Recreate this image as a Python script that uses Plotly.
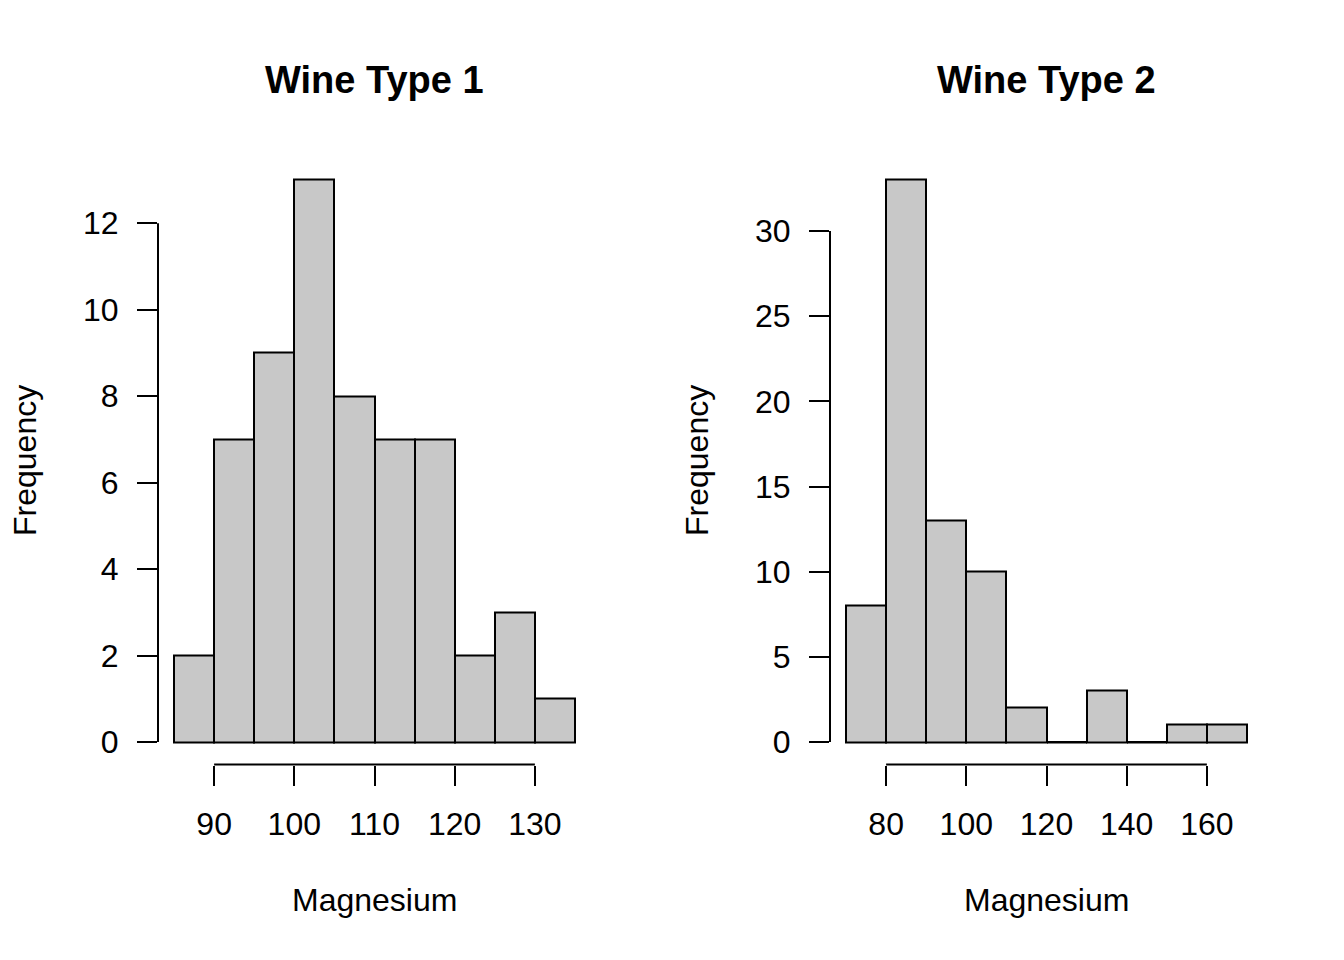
import plotly.graph_objects as go
import numpy as np

# Data
bins1 = [85, 90, 95, 100, 105, 110, 115, 120, 125, 130, 135]
counts1 = [2, 7, 9, 13, 8, 7, 7, 2, 3, 1]
xticks1 = [90, 100, 110, 120, 130]
yticks1 = [0, 2, 4, 6, 8, 10, 12]

bins2 = [70, 80, 90, 100, 110, 120, 130, 140, 150, 160, 170]
counts2 = [8, 33, 13, 10, 2, 0, 3, 0, 1, 1]
xticks2 = [80, 100, 120, 140, 160]
yticks2 = [0, 5, 10, 15, 20, 25, 30]

titles = ["Wine Type 1", "Wine Type 2"]
xlabel = "Magnesium"
ylabel = "Frequency"

W, H = 1344, 960
OFF = 8  # page body margin
FILL = "#C8C8C8"
FONT = "Liberation Sans, Arial, Helvetica, sans-serif"


def px(p):
    return (p - OFF) / W


def py(p):
    return 1 - (p - OFF) / H


fig = go.Figure()

panels = [
    (bins1, counts1, xticks1, yticks1, (158, 591)),
    (bins2, counts2, xticks2, yticks2, (830, 1263)),
]
ydom = [py(764.5), py(157.5)]

for i, (bins, counts, xt, yt, (pl, pr)) in enumerate(panels):
    n = i + 1
    xa = "x" if n == 1 else f"x{n}"
    ya = "y" if n == 1 else f"y{n}"
    b = np.array(bins, dtype=float)
    c = np.array(counts, dtype=float)
    centers = (b[:-1] + b[1:]) / 2
    widths = b[1:] - b[:-1]
    fig.add_trace(go.Bar(
        x=centers, y=c, width=widths,
        marker=dict(color=FILL, line=dict(color="black", width=2)),
        xaxis=xa, yaxis=ya, showlegend=False, hoverinfo="x+y",
    ))
    # zero-count bins drawn as baseline segments (as R does)
    for k in range(len(c)):
        if c[k] == 0:
            fig.add_trace(go.Scatter(
                x=[b[k], b[k + 1]], y=[0, 0], mode="lines",
                line=dict(color="black", width=2),
                xaxis=xa, yaxis=ya, showlegend=False, hoverinfo="skip",
            ))
    xr = b[-1] - b[0]
    yr = c.max()
    xrange = [b[0] - 0.04 * xr, b[-1] + 0.04 * xr]
    yrange = [-0.04 * yr, yr * 1.04]
    axkw = dict(showgrid=False, zeroline=False, showline=False,
                ticks="outside", ticklen=20, tickwidth=2, tickcolor="black",
                tickfont=dict(size=32, color="black", family=FONT))
    fig.layout[("xaxis" if n == 1 else f"xaxis{n}")] = dict(
        domain=[px(pl), px(pr)], range=xrange, anchor=ya,
        tickvals=xt, ticktext=[str(v) for v in xt],
        ticklabelstandoff=11, **axkw)
    fig.layout[("yaxis" if n == 1 else f"yaxis{n}")] = dict(
        domain=ydom, range=yrange, anchor=xa,
        tickvals=yt, ticktext=[str(v) for v in yt],
        ticklabelstandoff=12, **axkw)
    # axis lines spanning tick range (R style)
    fig.add_shape(type="line", xref=xa, yref=f"{ya} domain",
                  x0=min(xt), x1=max(xt), y0=0, y1=0,
                  line=dict(color="black", width=2))
    fig.add_shape(type="line", xref=f"{xa} domain", yref=ya,
                  x0=0, x1=0, y0=min(yt), y1=max(yt),
                  line=dict(color="black", width=2))
    cx = px((pl + pr) / 2)
    fig.add_annotation(text=f"<b>{titles[i]}</b>", x=cx, y=py(80),
                       xref="paper", yref="paper", showarrow=False,
                       font=dict(size=38, color="black", family=FONT),
                       xanchor="center", yanchor="middle")
    fig.add_annotation(text=xlabel, x=cx, y=py(900),
                       xref="paper", yref="paper", showarrow=False,
                       font=dict(size=32, color="black", family=FONT),
                       xanchor="center", yanchor="middle")
    fig.add_annotation(text=ylabel, x=px(pl - 133), y=py(461),
                       xref="paper", yref="paper", showarrow=False,
                       textangle=-90,
                       font=dict(size=32, color="black", family=FONT),
                       xanchor="center", yanchor="middle")

fig.update_layout(
    width=W, height=H, margin=dict(l=0, r=0, t=0, b=0),
    plot_bgcolor="white", paper_bgcolor="white",
    bargap=0, font=dict(family=FONT, color="black"),
)

fig.write_html("out.html")
